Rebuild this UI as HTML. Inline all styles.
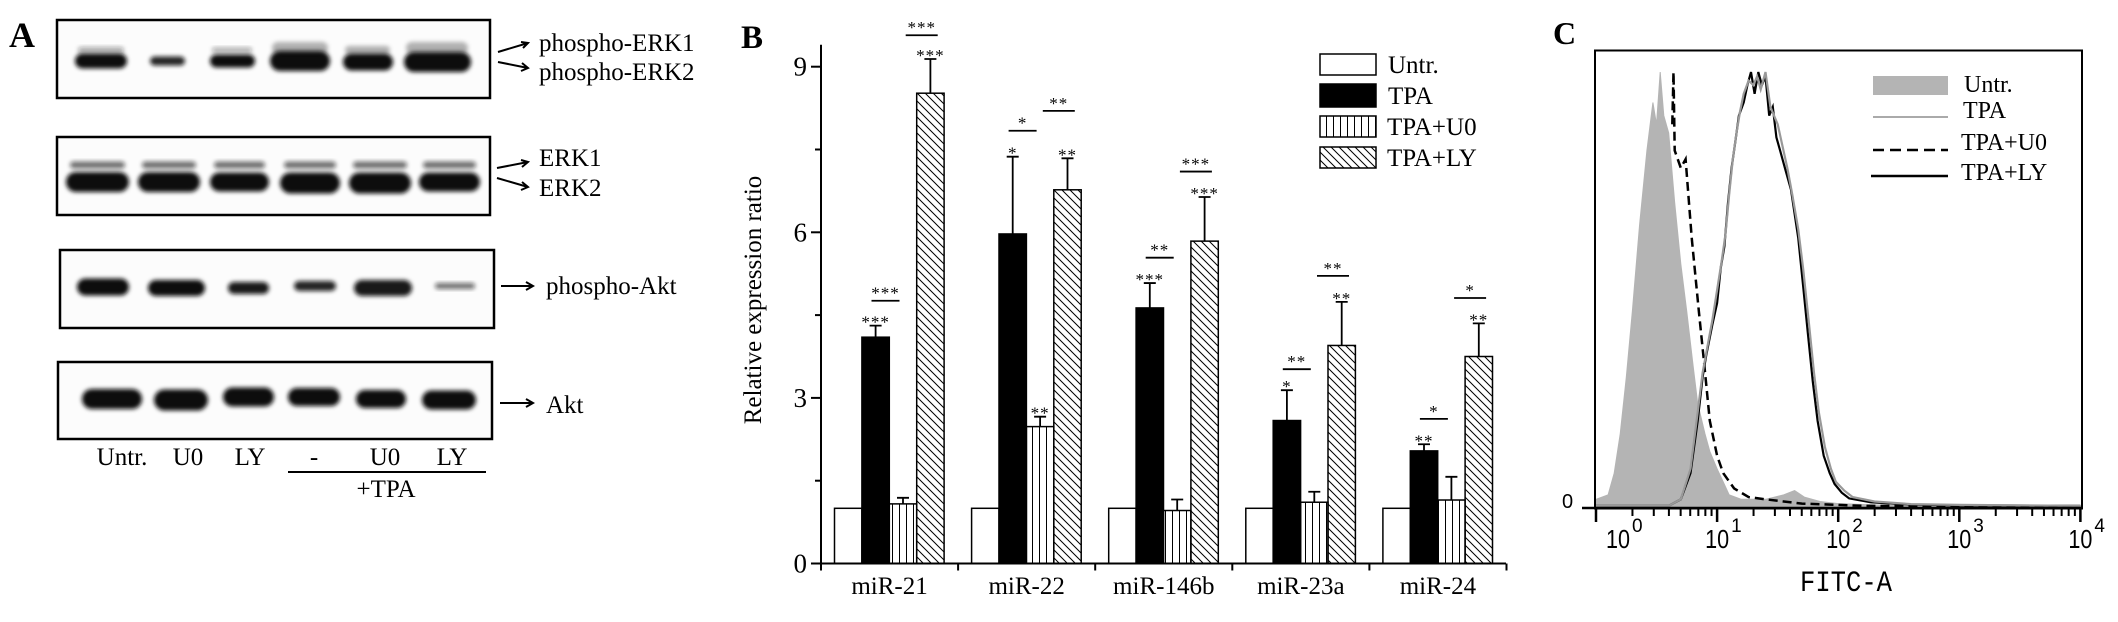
<!DOCTYPE html>
<html><head><meta charset="utf-8"><style>
html,body{margin:0;padding:0;background:#fff;}
svg{display:block;font-family:"Liberation Serif",serif;}
</style></head><body>
<svg id="fig" width="2118" height="622" viewBox="0 0 2118 622" xmlns="http://www.w3.org/2000/svg">
<defs>
<filter id="blur2" x="-20%" y="-50%" width="140%" height="200%"><feGaussianBlur stdDeviation="2.2"/></filter>
<pattern id="vhatch" patternUnits="userSpaceOnUse" width="7" height="7"><line x1="3.5" y1="0" x2="3.5" y2="7" stroke="#000" stroke-width="1"/></pattern>
<pattern id="dhatch" patternUnits="userSpaceOnUse" width="8" height="8"><path d="M-2,-2 L10,10 M-2,6 L2,10 M6,-2 L10,2" stroke="#000" stroke-width="1"/></pattern>
</defs>
<rect width="2118" height="622" fill="#fff"/>

<g id="panelA">
<text x="9" y="47" font-size="36" font-weight="bold">A</text>
<g id="blots"></g>
<g font-size="25">
<text x="539" y="51">phospho-ERK1</text>
<text x="539" y="80">phospho-ERK2</text>
<text x="539" y="166">ERK1</text>
<text x="539" y="196">ERK2</text>
<text x="546" y="294">phospho-Akt</text>
<text x="546" y="413">Akt</text>
</g>
<g stroke="#000" stroke-width="2" fill="none">
<path d="M498,52 L528,43 M521,42 L528,43 L523,48"/>
<path d="M498,62 L528,68 M522,63 L528,68 L521,71"/>
<path d="M497,168 L528,162 M521,160 L528,162 L522,167"/>
<path d="M497,178 L528,187 M522,182 L528,187 L521,190"/>
<path d="M501,286 L533,286 M526,282 L533,286 L526,290"/>
<path d="M500,403 L533,403 M526,399 L533,403 L526,407"/>
</g>
<g font-size="25" text-anchor="middle">
<text x="122" y="465">Untr.</text>
<text x="188" y="465">U0</text>
<text x="250" y="465">LY</text>
<text x="314" y="465">-</text>
<text x="385" y="465">U0</text>
<text x="452" y="465">LY</text>
<line x1="288" y1="472" x2="486" y2="472" stroke="#000" stroke-width="2"/>
<text x="386" y="497">+TPA</text>
</g>
</g>

<g id="panelB">
<text x="741" y="48" font-size="33" font-weight="bold">B</text>
<text transform="translate(761,300) rotate(-90)" text-anchor="middle" font-size="25">Relative expression ratio</text>
<g id="barsB"></g>
<g id="axesB"></g>
<g id="legendB">
<rect x="1320" y="54" width="56" height="21" fill="#fff" stroke="#000" stroke-width="1.5"/>
<rect x="1320" y="84" width="56" height="23" fill="#000" stroke="#000" stroke-width="1.5"/>
<rect x="1320" y="116" width="56" height="21" fill="url(#vhatch)" stroke="#000" stroke-width="1.5"/>
<rect x="1320" y="147" width="56" height="21" fill="url(#dhatch)" stroke="#000" stroke-width="1.5"/>
<g font-size="25">
<text x="1388" y="73">Untr.</text>
<text x="1388" y="104">TPA</text>
<text x="1387" y="135">TPA+U0</text>
<text x="1387" y="166">TPA+LY</text>
</g>
</g>
</g>

<g id="panelC">
<text x="1553" y="44" font-size="32" font-weight="bold">C</text>
<g id="histC"></g>
<rect x="1595" y="50.5" width="487" height="458" fill="none" stroke="#000" stroke-width="2"/>
<g id="axesC"></g>
<g id="legendC">
<rect x="1873" y="76" width="75" height="19" fill="#b4b4b4"/>
<line x1="1873" y1="117" x2="1948" y2="117" stroke="#aaa" stroke-width="2"/>
<line x1="1873" y1="150" x2="1948" y2="150" stroke="#000" stroke-width="2.5" stroke-dasharray="11,6"/>
<line x1="1871" y1="176" x2="1948" y2="176" stroke="#000" stroke-width="2.5"/>
<g font-size="24">
<text x="1964" y="92">Untr.</text>
<text x="1963" y="118">TPA</text>
<text x="1961" y="150">TPA+U0</text>
<text x="1961" y="180">TPA+LY</text>
</g>
</g>
<text x="1800" y="591" font-family="Liberation Mono, monospace" font-size="30" textLength="92" lengthAdjust="spacingAndGlyphs">FITC-A</text>
<text x="1562" y="508" font-family="Liberation Sans, sans-serif" font-size="20">0</text>
</g>
</svg>
<script>
var NS="http://www.w3.org/2000/svg";
function mk(tag,attrs,parent){var e=document.createElementNS(NS,tag);for(var k in attrs)e.setAttribute(k,attrs[k]);parent.appendChild(e);return e;}

/* Panel A blots */
var blotBoxes=[[57,20,433,78],[57,137,433,78],[60,250,434,78],[58,362,434,77]];
var blotsG=document.getElementById('blots');
var bands=[
[0,75,127,61,15,1],[0,150,185,61,9,0.9],[0,210,255,61,13,1],[0,270,330,61,20,1],[0,343,393,62,17,1],[0,404,471,62,20,1],
[0,78,124,50,6,0.35],[0,212,252,50,5,0.35],[0,272,328,48,12,0.3],[0,345,390,50,8,0.3],[0,406,468,48,12,0.3],
[1,66,129,182,20,1],[1,138,200,182,20,1],[1,210,269,182,19,1],[1,280,340,183,21,1],[1,349,411,183,21,1],[1,419,480,182,19,1],
[1,70,125,165,7,0.6],[1,142,196,165,7,0.6],[1,214,265,165,7,0.6],[1,284,336,165,7,0.6],[1,353,407,165,7,0.6],[1,423,476,165,7,0.6],
[2,77,129,287,17,1],[2,148,205,288,16,1],[2,228,269,288,12,0.95],[2,294,336,286,10,0.9],[2,354,412,288,16,0.95],[2,435,475,286,6,0.6],
[3,82,142,399,20,1],[3,154,208,400,21,1],[3,223,274,397,19,1],[3,288,340,397,18,1],[3,356,406,399,18,1],[3,422,476,400,19,1]
];
blotBoxes.forEach(function(b,i){
  var r=mk('rect',{x:b[0],y:b[1],width:b[2],height:b[3],fill:'#fcfcfc',stroke:'#000','stroke-width':2.5},blotsG);
  
  
});
bands.forEach(function(bd){
  var e=mk('rect',{x:bd[1],y:bd[3]-bd[4]/2,width:bd[2]-bd[1],height:bd[4],rx:bd[4]/2,ry:bd[4]/2,fill:'#111','fill-opacity':bd[5],filter:'url(#blur2)'},blotsG);
  
  
});

/* Panel B bar chart */
var categories=["miR-21","miR-22","miR-146b","miR-23a","miR-24"];
var untrValues=[1,1,1,1,1];
var tpaValues=[4.10,5.97,4.63,2.59,2.04];
var u0Values=[1.08,2.48,0.96,1.11,1.15];
var lyValues=[8.52,6.77,5.84,3.95,3.75];
var tpaErr=[0.21,1.40,0.45,0.55,0.12];
var u0Err=[0.11,0.18,0.20,0.19,0.42];
var lyErr=[0.62,0.57,0.80,0.79,0.60];
var tpaStars=["***","*","***","*","**"];
var u0Stars=["","**","","",""];
var lyStars=["***","**","***","**","**"];
var sig1Values=[4.76,7.84,5.54,3.52,2.62];
var sig1Stars=["***","*","**","**","*"];
var sig2Values=[9.57,8.20,7.10,5.21,4.81];
var sig2Stars=["***","**","***","**","*"];
var yTickValues=[0,3,6,9];
var yMinorValues=[1.5,4.5,7.5];

var axX0=821, axX1=1506, groupW=137.1, barOff=13.5, barW=27.4;
function yB(v){return 563.5-v*55.2;}
function groupX(i){return axX0+i*groupW;}
function barX(i,k){return groupX(i)+barOff+k*barW;}

var barsG=document.getElementById('barsB');
var series=[untrValues,tpaValues,u0Values,lyValues];
var fills=['#fff','#000','url(#vhatch)','url(#dhatch)'];
var snames=['untr','tpa','tpa-u0','tpa-ly'];
var errs=[null,tpaErr,u0Err,lyErr];
var stars=[null,tpaStars,u0Stars,lyStars];
categories.forEach(function(c,i){
  for(var k=0;k<4;k++){
    var v=series[k][i];
    var r=mk('rect',{x:barX(i,k),y:yB(v),width:barW,height:yB(0)-yB(v),fill:fills[k],stroke:'#000','stroke-width':1.5},barsG);
    
    
    if(errs[k]){
      var cx=barX(i,k)+barW/2, top=yB(v+errs[k][i]);
      var p=mk('path',{d:'M'+cx+','+yB(v)+' L'+cx+','+top+' M'+(cx-6)+','+top+' L'+(cx+6)+','+top,stroke:'#000','stroke-width':1.8,fill:'none'},barsG);
      
      
      if(stars[k][i]){
        var t=mk('text',{x:cx,y:top+2,'text-anchor':'middle','font-size':17,'letter-spacing':'1'},barsG);
        t.textContent=stars[k][i];
        
        
      }
    }
  }
  var l1c=groupX(i)+barOff+51, l1y=yB(sig1Values[i]);
  var ln1=mk('line',{x1:l1c-14,y1:l1y,x2:l1c+14,y2:l1y,stroke:'#000','stroke-width':1.8},barsG);
  
  
  var s1=mk('text',{x:l1c,y:l1y-2,'text-anchor':'middle','font-size':17,'letter-spacing':'1'},barsG);
  s1.textContent=sig1Stars[i];
  
  
  var l2c=barX(i,3)+5, l2y=yB(sig2Values[i]);
  var ln2=mk('line',{x1:l2c-16,y1:l2y,x2:l2c+16,y2:l2y,stroke:'#000','stroke-width':1.8},barsG);
  
  
  var s2=mk('text',{x:l2c,y:l2y-2,'text-anchor':'middle','font-size':17,'letter-spacing':'1'},barsG);
  s2.textContent=sig2Stars[i];
  
  
});

var axG=document.getElementById('axesB');
var ya=mk('line',{x1:axX0,y1:yB(9)-22,x2:axX0,y2:yB(0),stroke:'#000','stroke-width':2},axG);


var xa=mk('line',{x1:axX0,y1:yB(0),x2:axX1,y2:yB(0),stroke:'#000','stroke-width':2},axG);


yTickValues.forEach(function(v){
  var tk=mk('line',{x1:axX0-10,y1:yB(v),x2:axX0,y2:yB(v),stroke:'#000','stroke-width':2},axG);
  
  
  var t=mk('text',{x:axX0-14,y:yB(v)+9,'text-anchor':'end','font-size':27},axG);
  t.textContent=String(v);
  
  
});
yMinorValues.forEach(function(v){
  var tk=mk('line',{x1:axX0-6,y1:yB(v),x2:axX0,y2:yB(v),stroke:'#000','stroke-width':2},axG);
  
  
});
for(var gi=0;gi<=categories.length;gi++){
  var tk=mk('line',{x1:groupX(gi),y1:yB(0),x2:groupX(gi),y2:yB(0)+7,stroke:'#000','stroke-width':2},axG);
  
  
}
categories.forEach(function(c,i){
  var t=mk('text',{x:groupX(i)+groupW/2,y:594,'text-anchor':'middle','font-size':25},axG);
  t.textContent=c;
  
  
});

/* Panel C histogram */
var untrLog=[0,0.1,0.15,0.2,0.25,0.3,0.36,0.42,0.47,0.5,0.53,0.56,0.6,0.65,0.7,0.75,0.8,0.84,0.9,0.94,1.0,1.05,1.1,1.2,1.4,1.55,1.64,1.72,1.85,2.0,2.5,4];
var untrCount=[0.02,0.03,0.08,0.17,0.3,0.45,0.65,0.82,0.93,0.88,1.0,0.9,0.86,0.7,0.56,0.45,0.33,0.24,0.17,0.13,0.09,0.06,0.03,0.02,0.02,0.03,0.04,0.025,0.015,0.01,0.005,0.005];
var u0Log=[0.63,0.64,0.65,0.7,0.74,0.79,0.85,0.89,0.94,1.0,1.05,1.14,1.26,1.4,1.7,2.2,4];
var u0Count=[0.88,1.0,0.82,0.78,0.8,0.62,0.45,0.34,0.2,0.12,0.08,0.045,0.025,0.02,0.01,0.005,0.003];
var lyLog=[0,0.6,0.7,0.78,0.84,0.88,0.91,0.96,1.0,1.03,1.06,1.09,1.12,1.15,1.18,1.22,1.25,1.28,1.31,1.34,1.37,1.4,1.43,1.46,1.49,1.52,1.56,1.61,1.67,1.71,1.75,1.79,1.83,1.88,1.93,1.97,2.03,2.09,2.27,2.6,3,4];
var lyCount=[0.005,0.005,0.02,0.08,0.2,0.3,0.35,0.42,0.47,0.55,0.6,0.7,0.78,0.84,0.9,0.93,0.97,1.0,0.95,1.0,0.97,0.99,0.9,0.92,0.85,0.82,0.78,0.73,0.62,0.51,0.4,0.29,0.2,0.12,0.08,0.055,0.035,0.022,0.013,0.008,0.006,0.005];
var tpaLog=[0,0.6,0.7,0.78,0.84,0.88,0.92,0.96,1.0,1.04,1.07,1.1,1.13,1.16,1.19,1.22,1.26,1.3,1.33,1.36,1.4,1.44,1.47,1.5,1.54,1.58,1.62,1.67,1.71,1.76,1.8,1.84,1.89,1.94,1.98,2.05,2.12,2.3,2.6,3,4];
var tpaCount=[0.005,0.005,0.02,0.09,0.22,0.31,0.37,0.43,0.5,0.57,0.63,0.72,0.8,0.86,0.91,0.95,0.98,0.97,0.99,0.96,1.0,0.92,0.9,0.88,0.83,0.78,0.72,0.64,0.55,0.42,0.31,0.22,0.14,0.09,0.06,0.04,0.025,0.015,0.009,0.007,0.005];
var decadeTicks=[0,1,2,3,4];
var decadeExp=["0","1","2","3","4"];

function xC(l){return 1596+l*121.1;}
function yC(f){return 508-f*436;}
function pts(xs,ys){return xs.map(function(x,i){return xC(x).toFixed(1)+','+yC(ys[i]).toFixed(1);}).join(' ');}
var hG=document.getElementById('histC');
var untrPts=xC(untrLog[0])+','+yC(0)+' '+pts(untrLog,untrCount)+' '+xC(untrLog[untrLog.length-1])+','+yC(0);
var gf=mk('polygon',{points:untrPts,fill:'#b4b4b4',stroke:'#b4b4b4','stroke-width':1},hG);


var ld=mk('polyline',{points:pts(u0Log,u0Count),fill:'none',stroke:'#000','stroke-width':2.5,'stroke-dasharray':'9,5'},hG);


var ls=mk('polyline',{points:pts(lyLog,lyCount),fill:'none',stroke:'#000','stroke-width':2.2},hG);


var lt=mk('polyline',{points:pts(tpaLog,tpaCount),fill:'none',stroke:'#999','stroke-width':2.2},hG);



var aC=document.getElementById('axesC');
var xaxC=mk('line',{x1:1582,y1:508,x2:2082,y2:508,stroke:'#000','stroke-width':2.5},aC);


decadeTicks.forEach(function(d,i){
  var tk=mk('line',{x1:xC(d),y1:508,x2:xC(d),y2:522,stroke:'#000','stroke-width':2.5},aC);
  
  
  if(i!==decadeTicks.length-1){
    for(var m=2;m!==10;m++){
      var mx=xC(d+Math.log10(m));
      var mt=mk('line',{x1:mx,y1:508,x2:mx,y2:516,stroke:'#000','stroke-width':2},aC);
      
      
    }
  }
  var cx=(i===0)?xC(d)+22:xC(d);
  var t=mk('text',{x:cx-12,y:548,'font-family':'Liberation Sans, sans-serif','font-size':26,textLength:24,lengthAdjust:'spacingAndGlyphs'},aC);
  t.textContent='10';
  
  
  var e=mk('text',{x:cx+14,y:532,'font-family':'Liberation Sans, sans-serif','font-size':19},aC);
  e.textContent=decadeExp[i];
  
  
});
var yt=mk('line',{x1:1582,y1:508,x2:1595,y2:508,stroke:'#000','stroke-width':2},aC);


</script>
</body></html>
